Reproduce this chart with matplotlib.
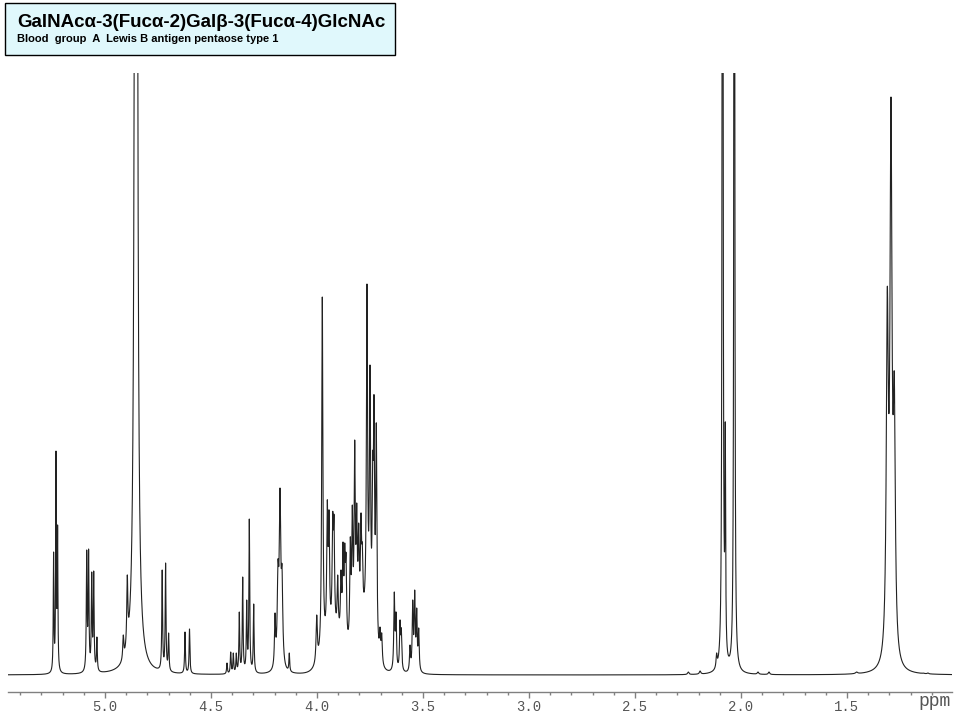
import numpy as np
import matplotlib
matplotlib.use('Agg')
import matplotlib.pyplot as plt
from matplotlib.patches import Rectangle
from matplotlib.ticker import MultipleLocator, FormatStrFormatter
from matplotlib.transforms import Bbox

# 1H NMR peak list: shift (ppm), apparent height, half width (ppm)
peak_ppm = [
    5.2425, 5.2311, 5.2236,                      # H-1 region
    5.0863, 5.0774, 5.0627, 5.0533, 5.0382,
    4.9137, 4.8948, 4.8538,                      # HOD
    4.7302, 4.7142, 4.7000,
    4.6226, 4.6014,
    4.4245, 4.4071, 4.3948, 4.3807, 4.3665, 4.3505, 4.3316, 4.3193, 4.2986,
    4.1980, 4.1840, 4.1745, 4.1651, 4.1307,
    4.0014, 3.9750, 3.9514, 3.9434, 3.9259, 3.9198, 3.9024, 3.8868, 3.8774,
    3.8693, 3.8632, 3.8429, 3.8335, 3.8222, 3.8127, 3.8033, 3.7925, 3.7863,
    3.7642, 3.7500, 3.7373, 3.7311, 3.7203, 3.7028, 3.6948,
    3.6354, 3.6274, 3.6085, 3.6024,
    3.5613, 3.5486, 3.5392, 3.5297, 3.5203,
    2.2486, 2.1930,
    2.1151, 2.0868, 2.0741, 2.0316,              # NHAc
    1.9198, 1.8679,
    1.4547,
    1.3099, 1.2925, 1.2770,                      # Fuc CH3
    1.1400, 1.1180,
]
peak_height = [
    123, 224, 150,
    125, 126, 103, 104, 38,
    40, 100, 3800,
    105, 112, 42,
    43, 46,
    12, 23, 22, 22, 63, 98, 75, 156, 71,
    62, 115, 187, 110, 22,
    60, 378, 175, 165, 163, 160, 100, 105, 133,
    132, 122, 138, 170, 235, 172, 152, 162, 132,
    391, 310, 223, 280, 252, 48, 42,
    83, 63, 55, 47,
    30, 75, 85, 67, 47,
    3, 4,
    22, 1800, 253, 1600,
    3, 3,
    3,
    388, 578, 302,
    2, 2,
]
peak_width = [
    0.0018, 0.0018, 0.0018,
    0.0022, 0.0022, 0.0022, 0.0022, 0.0022,
    0.0030, 0.0030, 0.0038,
    0.0022, 0.0022, 0.0022,
    0.0022, 0.0022,
    0.0022, 0.0022, 0.0022, 0.0022, 0.0022, 0.0022, 0.0022, 0.0022, 0.0022,
    0.0030, 0.0042, 0.0042, 0.0042, 0.0022,
    0.0035, 0.0032, 0.0032, 0.0032, 0.0032, 0.0032, 0.0032, 0.0032, 0.0032,
    0.0032, 0.0032, 0.0032, 0.0032, 0.0032, 0.0032, 0.0032, 0.0032, 0.0032,
    0.0032, 0.0032, 0.0032, 0.0032, 0.0032, 0.0032, 0.0032,
    0.0028, 0.0028, 0.0028, 0.0028,
    0.0028, 0.0028, 0.0028, 0.0028, 0.0028,
    0.0040, 0.0040,
    0.0030, 0.0019, 0.0019, 0.0019,
    0.0040, 0.0040,
    0.0060,
    0.0057, 0.0057, 0.0057,
    0.0040, 0.0040,
]
# unresolved envelope under the 3.7-4.0 ppm ring-proton cluster
hump_ppm = [3.92, 3.78]
hump_height = [35, 45]
hump_sigma = [0.045, 0.035]

major_ticks = [5.0, 4.5, 4.0, 3.5, 3.0, 2.5, 2.0, 1.5]

title = 'GalNAc\u03b1-3(Fuc\u03b1-2)Gal\u03b2-3(Fuc\u03b1-4)GlcNAc'
subtitle = 'Blood  group  A  Lewis B antigen pentaose type 1'


def lorentz(x, x0, g):
    return 1.0 / (1.0 + ((x - x0) / g) ** 2)


def hump(x):
    y = np.zeros_like(x, dtype=float)
    for c, h, s in zip(hump_ppm, hump_height, hump_sigma):
        y += h * np.exp(-0.5 * ((x - c) / s) ** 2)
    return y


pos = np.array(peak_ppm)
obs = np.array(peak_height, dtype=float)
wid = np.array(peak_width)

# turn apparent heights into line amplitudes (neighbouring lines overlap)
M = lorentz(pos[:, None], pos[None, :], wid[None, :])
amp = np.linalg.solve(M, obs - hump(pos))
amp = np.clip(amp, 0, None)

ppm = np.linspace(5.46, 1.0, 60000)
spec = hump(ppm)
for x0, a, g in zip(pos, amp, wid):
    spec += a * lorentz(ppm, x0, g)

W, H = 960, 720
fig = plt.figure(figsize=(W / 100, H / 100), dpi=100)

ax = fig.add_axes([8 / W, 28 / H, 944 / W, 619 / H])
ax.plot(ppm, spec, color='#222222', linewidth=0.8)
ax.set_xlim(5.4575, 1.0047)
ax.set_ylim(-17, 602)

for s in ['left', 'right', 'top']:
    ax.spines[s].set_visible(False)
ax.spines['bottom'].set_color('#808080')
ax.spines['bottom'].set_linewidth(1.0)
ax.set_yticks([])
ax.set_xticks(major_ticks)
ax.xaxis.set_major_formatter(FormatStrFormatter('%.1f'))
ax.xaxis.set_minor_locator(MultipleLocator(0.1))
ax.tick_params(axis='x', which='major', direction='out', length=4.5, width=1,
               color='#808080', pad=1.5, labelsize=10, labelcolor='#555555')
ax.tick_params(axis='x', which='minor', direction='out', length=2.2, width=1,
               color='#808080')
for lab in ax.get_xticklabels():
    lab.set_fontfamily('Liberation Mono')

# "ppm" label, cut at the right end of the axis like the original
t = fig.text(918 / W, 1 - 702 / H, 'ppm', fontsize=13, color='#555555',
             family='Liberation Mono', ha='left', va='center')
t.set_clip_box(Bbox([[0, 0], [951, H]]))
t.set_clip_on(True)

# title box
fig.patches.append(Rectangle((5 / W, 1 - 55 / H), 390 / W, 52 / H,
                             transform=fig.transFigure, facecolor='#e0f8fc',
                             edgecolor='black', linewidth=1.0))
fig.text(17 / W, 1 - 27 / H, title, fontsize=13.5, fontweight='bold',
         family='Liberation Sans', ha='left', va='baseline')
fig.text(17 / W, 1 - 42 / H, subtitle, fontsize=8, fontweight='bold',
         family='Liberation Sans', ha='left', va='baseline')

fig.savefig('out.png', dpi=100)
